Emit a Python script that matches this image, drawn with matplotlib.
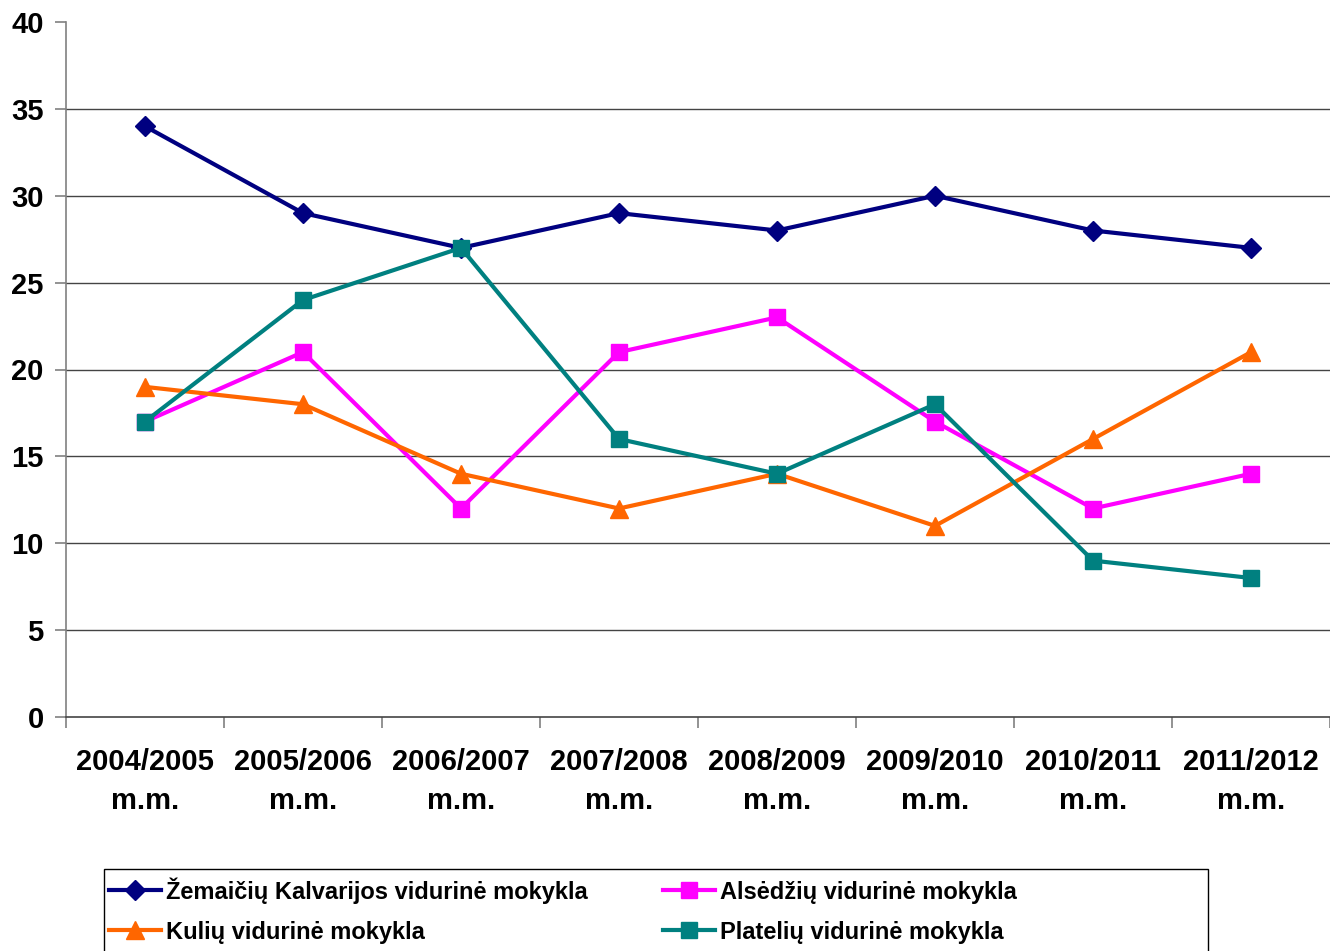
import matplotlib.pyplot as plt
from matplotlib.patches import Rectangle

plt.rcParams['font.family'] = ['Liberation Sans', 'DejaVu Sans']
plt.rcParams['font.weight'] = 'bold'

# Duomenys
metai = ["2004/2005\nm.m.", "2005/2006\nm.m.", "2006/2007\nm.m.", "2007/2008\nm.m.",
         "2008/2009\nm.m.", "2009/2010\nm.m.", "2010/2011\nm.m.", "2011/2012\nm.m."]
zemaiciu = [34, 29, 27, 29, 28, 30, 28, 27]
alsedziu = [17, 21, 12, 21, 23, 17, 12, 14]
kuliu = [19, 18, 14, 12, 14, 11, 16, 21]
plateliu = [17, 24, 27, 16, 14, 18, 9, 8]

serijos = [
    ("Žemaičių Kalvarijos vidurinė mokykla", zemaiciu, "#000080", "D", 10.5),
    ("Alsėdžių vidurinė mokykla", alsedziu, "#FF00FF", "s", 12),
    ("Kulių vidurinė mokykla", kuliu, "#FF6600", "^", 13),
    ("Platelių vidurinė mokykla", plateliu, "#008080", "s", 12),
]

fig = plt.figure(figsize=(13.3, 9.51), dpi=100)
ax = fig.add_axes([66 / 1330, 1 - 717 / 951, 1 - 66 / 1330, (717 - 22) / 951])

x = [i + 0.5 for i in range(len(metai))]
handles = {}
for pavadinimas, reiksmes, spalva, zymeklis, dydis in serijos:
    line, = ax.plot(x, reiksmes, color=spalva, lw=3, marker=zymeklis, ms=dydis,
                    markeredgecolor=spalva, label=pavadinimas, zorder=3)
    handles[pavadinimas] = line

ax.set_xlim(0, len(metai))
ax.set_ylim(0, 40)
ax.set_yticks(range(0, 41, 5))
for y in range(5, 40, 5):
    ax.axhline(y, color="#444444", lw=1, zorder=1)

ax.set_xticks(range(0, len(metai) + 1), minor=False)
ax.set_xticklabels([])
ax.set_xticks(x, minor=True)
ax.set_xticklabels(metai, minor=True, fontsize=21, fontweight="bold", linespacing=1.5)
ax.tick_params(axis="x", which="minor", length=0, pad=22)
ax.tick_params(axis="x", which="major", length=8, color="#808080", width=1.2)
ax.tick_params(axis="y", length=8, color="#808080", width=1.2, labelsize=21, pad=8)

for s in ["top", "right"]:
    ax.spines[s].set_visible(False)
ax.spines["left"].set_color("#808080")
ax.spines["left"].set_linewidth(1.2)
ax.spines["bottom"].set_color("#444444")
ax.spines["bottom"].set_linewidth(1.2)

# Legendos rėmelis (Excel stiliaus, platesnis už turinį)
fig.patches.append(Rectangle((104 / 1330, -0.01), (1208 - 104) / 1330, 0.01 + 1 - 869 / 951,
                             transform=fig.transFigure, facecolor="white",
                             edgecolor="black", lw=1, zorder=0))

tvarka = [serijos[0][0], serijos[2][0], serijos[1][0], serijos[3][0]]
leg = fig.legend([handles[t] for t in tvarka], tvarka, ncol=2, loc="upper left",
                 bbox_to_anchor=(109 / 1330, 1 - 877 / 951), fontsize=17,
                 frameon=False, borderpad=0, handlelength=2.2, handletextpad=0.2,
                 columnspacing=3.2, labelspacing=0.72, borderaxespad=0)

fig.savefig("out.png", dpi=100)
